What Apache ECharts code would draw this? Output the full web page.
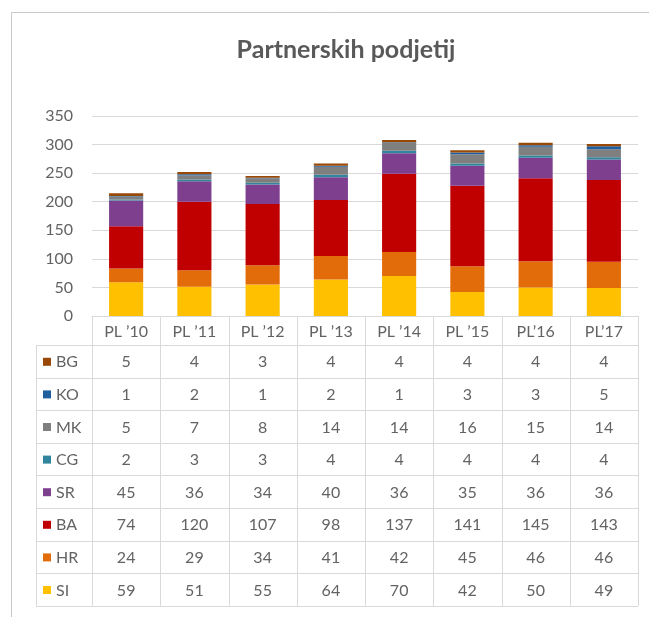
<!DOCTYPE html>
<html>
<head>
<meta charset="utf-8">
<script src="https://cdn.jsdelivr.net/npm/echarts@6/dist/echarts.min.js"></script>
<style>
html,body{margin:0;padding:0;background:#fff;}
#c{width:649px;height:617px;}
</style>
</head>
<body>
<div id="c"></div>
<script>
const categories = ["PL \u201910", "PL \u201911", "PL \u201912", "PL \u201913", "PL \u201914", "PL \u201915", "PL\u201916", "PL\u201917"];
const seriesNames = ["SI", "HR", "BA", "SR", "CG", "MK", "KO", "BG"];
const SI = [59, 51, 55, 64, 70, 42, 50, 49];
const HR = [24, 29, 34, 41, 42, 45, 46, 46];
const BA = [74, 120, 107, 98, 137, 141, 145, 143];
const SR = [45, 36, 34, 40, 36, 35, 36, 36];
const CG = [2, 3, 3, 4, 4, 4, 4, 4];
const MK = [5, 7, 8, 14, 14, 16, 15, 14];
const KO = [1, 2, 1, 2, 1, 3, 3, 5];
const BG = [5, 4, 3, 4, 4, 4, 4, 4];
const yTicks = [0, 50, 100, 150, 200, 250, 300, 350];

const seriesData = [SI, HR, BA, SR, CG, MK, KO, BG];
const colors = ["#FFC000", "#E36C0A", "#C00000", "#7E3F8F", "#31859C", "#7F7F7F", "#1F5F9E", "#984807"];
const FONT = "Lato, 'Open Sans', sans-serif";
const TXT = "#636363";
const LINE = "#d9d9d9";
const FS = 16;

const GRID = {left: 92, right: 11, top: 116, bottom: 301};

const chart = echarts.init(document.getElementById('c'), null, {renderer: 'canvas'});
const option = {
  animation: false,
  backgroundColor: '#fff',
  title: {
    text: 'Partnerskih podjetij',
    left: 341, top: 32, textAlign: 'center',
    textStyle: {fontFamily: FONT, fontSize: 25, fontWeight: 'bold', color: '#595959'}
  },
  grid: GRID,
  xAxis: {
    type: 'category', data: categories,
    axisLine: {show: true, lineStyle: {color: LINE, width: 1}},
    axisTick: {show: false}, axisLabel: {show: false}
  },
  yAxis: {
    type: 'value', min: yTicks[0], max: yTicks[yTicks.length - 1], interval: 50,
    axisLine: {show: false}, axisTick: {show: false},
    splitLine: {lineStyle: {color: LINE, width: 1}},
    axisLabel: {fontFamily: FONT, fontSize: FS, color: TXT, margin: 19}
  },
  series: seriesNames.map((n, i) => ({
    name: n, type: 'bar', stack: 'total', data: seriesData[i],
    barWidth: '50%', itemStyle: {color: colors[i]}
  }))
};
chart.setOption(option);

// Build the data table under the chart from the same arrays
const x0 = chart.convertToPixel({gridIndex: 0}, [0, 0]);
const x1 = chart.convertToPixel({gridIndex: 0}, [1, 0]);
const colW = x1[0] - x0[0];
const tableLeft = x0[0] - colW / 2;
const axisY = x0[1];
const headerBottom = axisY + 29;
const rowH = 32.6;
const labelLeft = 36;
const nRows = seriesNames.length;
const tableBottom = headerBottom + rowH * nRows;
const tableRight = tableLeft + colW * categories.length;

const g = [];
// outer frame lines
g.push({type: 'line', shape: {x1: 11.5, y1: 12.5, x2: 649, y2: 12.5}, style: {stroke: '#c8c8c8', lineWidth: 1}, silent: true});
g.push({type: 'line', shape: {x1: 11.5, y1: 12.5, x2: 11.5, y2: 617}, style: {stroke: '#c8c8c8', lineWidth: 1}, silent: true});

// horizontal lines
g.push({type: 'line', shape: {x1: labelLeft, y1: headerBottom + 0.5, x2: tableRight, y2: headerBottom + 0.5}, style: {stroke: LINE}, silent: true});
for (let r = 1; r <= nRows; r++) {
  const y = Math.round(headerBottom + rowH * r) + 0.5;
  g.push({type: 'line', shape: {x1: labelLeft, y1: y, x2: tableRight, y2: y}, style: {stroke: LINE}, silent: true});
}
// vertical lines
g.push({type: 'line', shape: {x1: labelLeft + 0.5, y1: headerBottom, x2: labelLeft + 0.5, y2: tableBottom}, style: {stroke: LINE}, silent: true});
for (let c = 0; c <= categories.length; c++) {
  const x = Math.round(tableLeft + colW * c) + 0.5;
  g.push({type: 'line', shape: {x1: x, y1: axisY, x2: x, y2: tableBottom}, style: {stroke: LINE}, silent: true});
}
// header texts
categories.forEach((cat, c) => {
  g.push({type: 'text', x: tableLeft + colW * (c + 0.5), y: (axisY + headerBottom) / 2 + 1,
    style: {text: cat, fill: TXT, font: FS + 'px ' + FONT, textAlign: 'center', textVerticalAlign: 'middle'}, silent: true});
});
// rows: top row is last series (BG), bottom row is SI
for (let r = 0; r < nRows; r++) {
  const si = nRows - 1 - r;
  const cy = headerBottom + rowH * (r + 0.5) + 1;
  g.push({type: 'rect', shape: {x: 43, y: cy - 4.5, width: 8, height: 8}, style: {fill: colors[si]}, silent: true});
  g.push({type: 'text', x: 56, y: cy, style: {text: seriesNames[si], fill: TXT, font: FS + 'px ' + FONT, textAlign: 'left', textVerticalAlign: 'middle'}, silent: true});
  seriesData[si].forEach((v, c) => {
    g.push({type: 'text', x: tableLeft + colW * (c + 0.5), y: cy,
      style: {text: String(v), fill: TXT, font: FS + 'px ' + FONT, textAlign: 'center', textVerticalAlign: 'middle'}, silent: true});
  });
}
chart.setOption({graphic: g});
</script>
</body>
</html>
